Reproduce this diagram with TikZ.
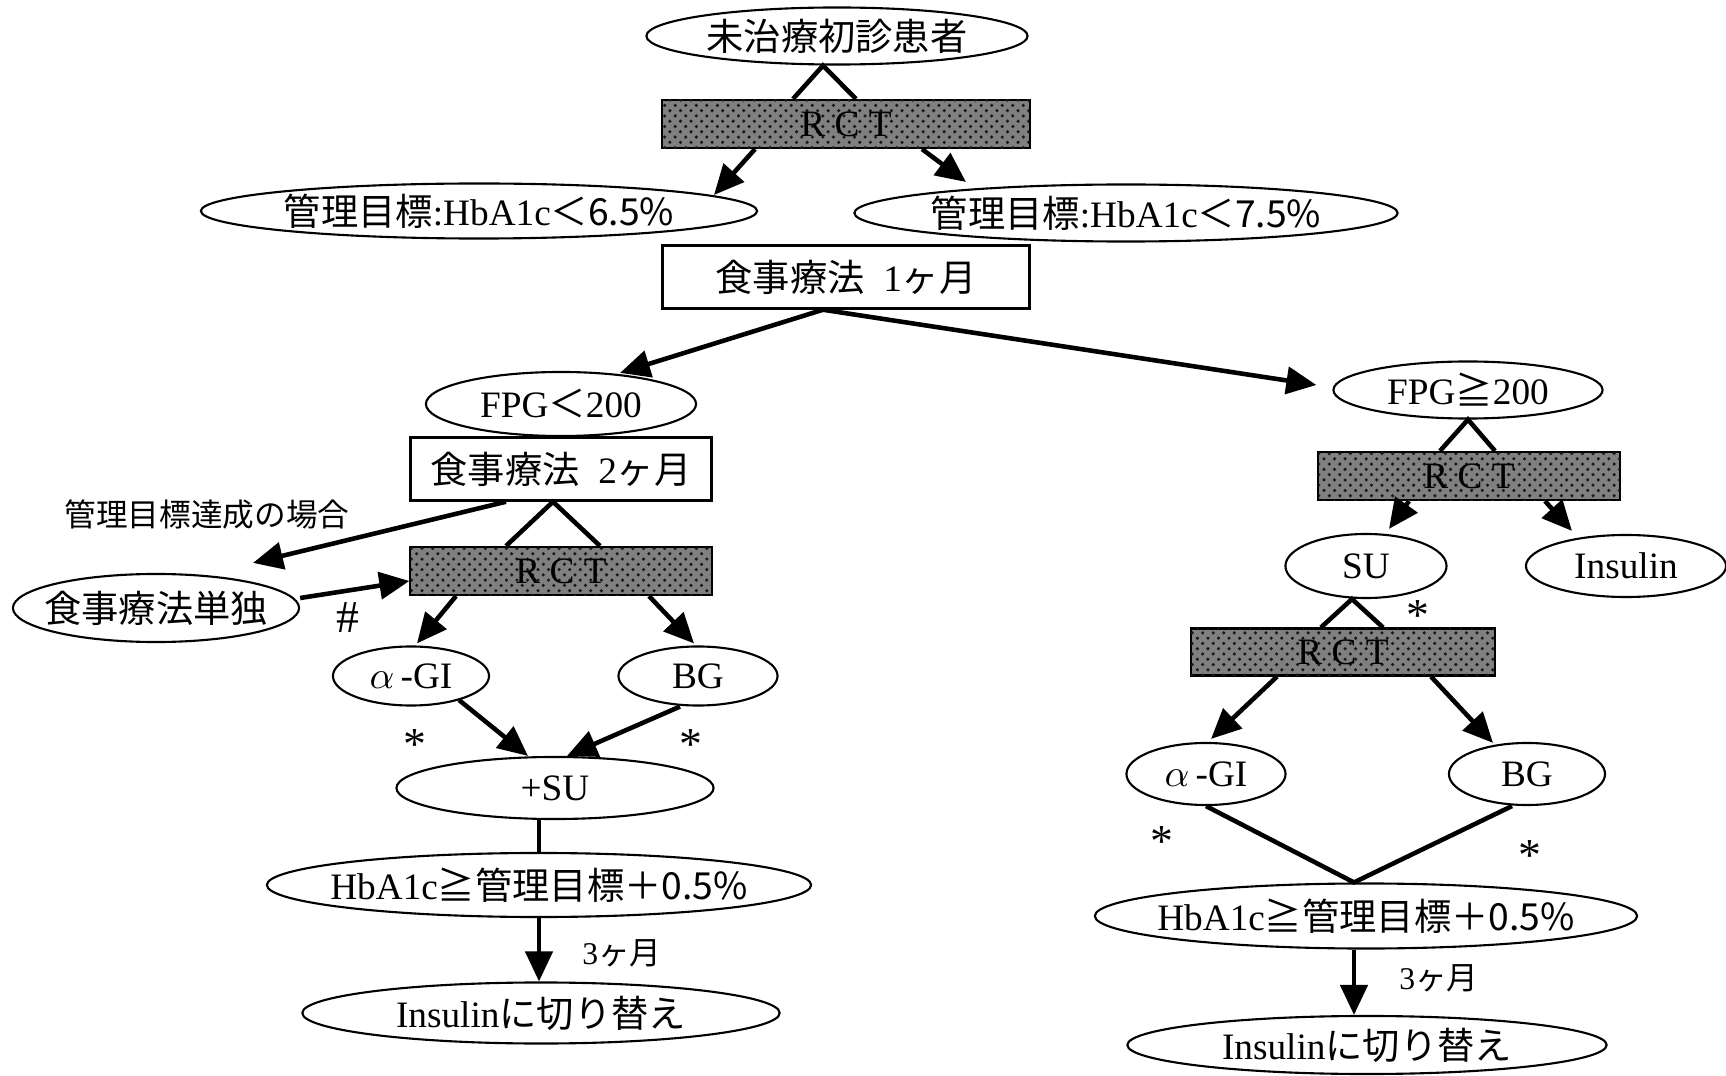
\documentclass[tikz,border=0pt]{standalone}
\usepackage{fontspec}
\setmainfont{Liberation Serif}
\newfontfamily\jp{Noto Sans CJK JP}
\usetikzlibrary{shapes.geometric, arrows.meta, calc, patterns}
\tikzset{
    oval/.style={ellipse, draw, line width=0.6pt, inner xsep=-0.5cm, inner ysep=0pt},
    stepbox/.style={rectangle, draw, line width=0.7pt, inner sep=0pt},
    rctbar/.style={
        rectangle, draw, line width=0.6pt, inner sep=0pt, minimum height=0.48cm,
        fill=black!50, postaction={pattern=crosshatch dots, pattern color=black!90}
    },
    link/.style={line width=1.3pt},
    arrow/.style={link, -{Triangle[length=0.3cm, width=0.27cm]}},
    note/.style={font=\fontsize{9}{10}\selectfont},
    starmark/.style={font=\fontsize{13}{14}\selectfont, inner sep=0pt},
}

\begin{document}
\begin{tikzpicture}[x=0.01cm, y=-0.01cm, font=\fontsize{10.6}{12}\selectfont]
    \useasboundingbox (0,0) rectangle (1726,1076);

    \node[oval, minimum width=3.81cm, minimum height=0.57cm] (top) at (837,36) {\jp 未治療初診患者};
    \node[rctbar, minimum width=3.67cm] (rctA) at (846,124) {R C T};
    \node[oval, minimum width=5.56cm, minimum height=0.55cm] (goalA) at (479,211) {{\jp 管理目標}:HbA1c{\jp ＜6.5\%}};
    \node[oval, minimum width=5.43cm, minimum height=0.57cm] (goalB) at (1126,213) {{\jp 管理目標}:HbA1c{\jp ＜7.5\%}};
    \node[stepbox, minimum width=3.67cm, minimum height=0.63cm] (dietA) at (846,277) {{\jp 食事療法}\enspace 1{\jp ヶ月}};

    \node[oval, minimum width=2.70cm, minimum height=0.64cm] (fpgLo) at (561,404) {FPG{\jp ＜}200};
    \node[stepbox, minimum width=3.01cm, minimum height=0.63cm] (dietB) at (561,469) {{\jp 食事療法}\enspace 2{\jp ヶ月}};
    \node[note] (goalNote) at (207,515) {\jp 管理目標達成の場合};
    \node[oval, minimum width=2.86cm, minimum height=0.68cm] (dietOnly) at (156,608) {\jp 食事療法単独};
    \node[starmark] (hash) at (348,618) {\#};
    \node[rctbar, minimum width=3.01cm] (rctB) at (561,571) {R C T};
    \node[oval, minimum width=1.56cm, minimum height=0.59cm] (agiL) at (411,676) {$\alpha$\,-GI};
    \node[oval, minimum width=1.59cm, minimum height=0.59cm] (bgL) at (698,676) {BG};
    \node[starmark] (starL1) at (415,745) {*};
    \node[starmark] (starL2) at (691,745) {*};
    \node[oval, minimum width=3.17cm, minimum height=0.62cm] (suPlus) at (555,788) {+SU};
    \node[oval, minimum width=5.44cm, minimum height=0.64cm] (hbaL) at (539,885) {HbA1c{\jp ≧管理目標＋0.5\%}};
    \node[note] (monthL) at (622,953) {3{\jp ヶ月}};
    \node[oval, minimum width=4.77cm, minimum height=0.61cm] (insL) at (541,1013) {Insulin{\jp に切り替え}};

    \node[oval, minimum width=2.69cm, minimum height=0.57cm] (fpgHi) at (1468,390) {FPG{\jp ≧}200};
    \node[rctbar, minimum width=3.01cm] (rctC) at (1469,476) {R C T};
    \node[oval, minimum width=1.61cm, minimum height=0.64cm] (su) at (1366,566) {SU};
    \node[oval, minimum width=2.00cm, minimum height=0.62cm] (insR) at (1626,566) {Insulin};
    \node[starmark] (starR0) at (1418,616) {*};
    \node[rctbar, minimum width=3.04cm, minimum height=0.47cm] (rctD) at (1343,652) {R C T};
    \node[oval, minimum width=1.59cm, minimum height=0.62cm] (agiR) at (1206,774) {$\alpha$\,-GI};
    \node[oval, minimum width=1.56cm, minimum height=0.62cm] (bgR) at (1527,774) {BG};
    \node[starmark] (starR1) at (1162,842) {*};
    \node[starmark] (starR2) at (1530,856) {*};
    \node[oval, minimum width=5.42cm, minimum height=0.65cm] (hbaR) at (1366,916) {HbA1c{\jp ≧管理目標＋0.5\%}};
    \node[note] (monthR) at (1439,978) {3{\jp ヶ月}};
    \node[oval, minimum width=4.79cm, minimum height=0.58cm] (insR2) at (1367,1045) {Insulin{\jp に切り替え}};

    \draw[link] ($(rctA.north)+(-53,0)$) -- ($(top.south)+(-14,0)$) -- ($(rctA.north)+(10,0)$);
    \draw[arrow] ($(rctA.south)+(-91,0)$) -- ($(goalA.center)+(235,-16)$);
    \draw[arrow] ($(rctA.south)+(76,0)$) -- ($(goalB.center)+(-160,-31)$);
    \draw[arrow] ($(dietA.south)+(-23,0)$) -- ($(fpgLo.north)+(59,2)$);
    \draw[arrow] ($(dietA.south)+(-23,0)$) -- ($(fpgHi.west)+(-16,-5)$);

    \draw[arrow] ($(dietB.south)+(-55,0)$) -- ($(dietOnly.north)+(97,-10)$);
    \draw[arrow] ($(dietOnly.east)+(0,-10)$) -- ($(rctB.west)+(0,10)$);
    \draw[link] ($(rctB.north)+(-55,0)$) -- ($(dietB.south)+(-8,0)$) -- ($(rctB.north)+(39,0)$);
    \draw[arrow] ($(rctB.south)+(-105,0)$) -- ($(agiL.north)+(6,-2)$);
    \draw[arrow] ($(rctB.south)+(88,0)$) -- ($(bgL.north)+(-4,-2)$);
    \draw[arrow] ($(agiL.center)+(48,24)$) -- ($(suPlus.north)+(-27,0)$);
    \draw[arrow] ($(bgL.south)+(-18,0)$) -- ($(suPlus.north)+(12,0)$);
    \draw[link] ($(suPlus.south)+(-16,0)$) -- (hbaL.north);
    \draw[arrow] (hbaL.south) -- (hbaL.south |- insL.north);

    \draw[link] ($(rctC.north)+(-29,0)$) -- (fpgHi.south) -- ($(rctC.north)+(26,0)$);
    \draw[arrow] ($(rctC.south)+(-60,0)$) -- ($(su.north)+(23,-4)$);
    \draw[arrow] ($(rctC.south)+(76,0)$) -- ($(insR.north)+(-54,-3)$);
    \draw[link] ($(rctD.north)+(-22,0)$) -- ($(su.south)+(-14,0)$) -- ($(rctD.north)+(40,0)$);
    \draw[arrow] ($(rctD.south)+(-66,0)$) -- ($(agiR.north)+(5,-3)$);
    \draw[arrow] ($(rctD.south)+(88,0)$) -- ($(bgR.north)+(-34,1)$);
    \draw[link] (agiR.south) -- ($(hbaR.north)+(-12,0)$) -- ($(bgR.south)+(-15,0)$);
    \coordinate (hbaRfoot) at ($(hbaR.south)+(-12,0)$);
    \draw[arrow] (hbaRfoot) -- (hbaRfoot |- insR2.north);
\end{tikzpicture}
\end{document}
